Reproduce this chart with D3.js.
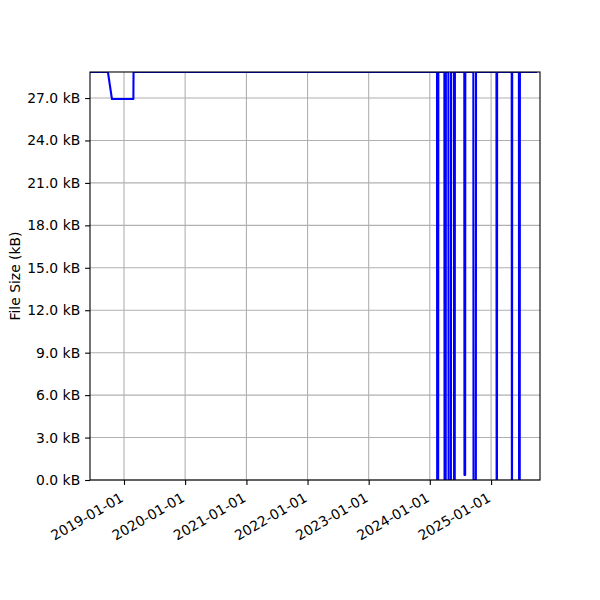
<!DOCTYPE html>
<html>
<head>
<meta charset="utf-8">
<script src="https://cdn.jsdelivr.net/npm/d3@7"></script>
<style>
  html, body { margin: 0; padding: 0; background: #fff; }
  svg { display: block; }
  text { font-family: "DejaVu Sans", sans-serif; }
</style>
</head>
<body>
<svg id="chart" width="600" height="600"></svg>
<script>
// ---- Data ----
const dates = [
  "2018-06-12", "2018-09-27", "2018-10-21", "2019-02-26", "2019-02-27",
  "2024-02-13", "2024-02-14", "2024-02-20", "2024-02-21",
  "2024-03-28", "2024-03-29", "2024-04-05", "2024-04-06",
  "2024-04-21", "2024-04-22", "2024-05-06", "2024-05-07",
  "2024-05-24", "2024-05-25", "2024-05-29", "2024-05-30",
  "2024-07-25", "2024-07-26", "2024-07-30", "2024-07-31",
  "2024-09-17", "2024-09-18", "2024-10-02", "2024-10-03",
  "2025-02-02", "2025-02-03", "2025-02-05", "2025-02-06",
  "2025-05-04", "2025-05-05", "2025-05-06", "2025-05-07",
  "2025-06-16", "2025-06-17", "2025-06-21", "2025-06-22",
  "2025-10-03"
];
const sizesKB = [
  28.84, 28.84, 26.93, 26.93, 28.84,
  28.84, 0, 0, 28.84,
  28.84, 0, 0, 28.84,
  28.84, 0, 0, 28.84,
  28.84, 0, 0, 28.84,
  28.84, 0.35, 0.35, 28.84,
  28.84, 0, 0, 28.84,
  28.84, 0, 0, 28.84,
  28.84, 0, 0, 28.84,
  28.84, 0, 0, 28.84,
  28.84
];
const xDomain = ["2018-06-12", "2025-10-20"];
const xTickDates = ["2019-01-01", "2020-01-01", "2021-01-01", "2022-01-01", "2023-01-01", "2024-01-01", "2025-01-01"];
const yTickValues = [0, 3, 6, 9, 12, 15, 18, 21, 24, 27];
const yLabel = "File Size (kB)";

// ---- Layout ----
const W = 600, H = 600;
const mLeft = 90, mRight = 540, mTop = 72, mBottom = 480;
const parse = d3.utcParse("%Y-%m-%d");
const fmtDate = d3.utcFormat("%Y-%m-%d");
const fontSize = 13.9;

const points = dates.map((d, i) => ({ date: parse(d), v: sizesKB[i] }));

const x = d3.scaleUtc().domain(xDomain.map(parse)).range([mLeft, mRight]);
const y = d3.scaleLinear().domain([0, d3.max(sizesKB)]).range([mBottom, mTop]);

const svg = d3.select("#chart");

svg.append("defs").append("clipPath").attr("id", "clip")
  .append("rect").attr("x", mLeft).attr("y", mTop)
  .attr("width", mRight - mLeft).attr("height", mBottom - mTop);

// Grid
const grid = svg.append("g");
grid.selectAll("line.gx").data(xTickDates.map(parse)).join("line")
  .attr("class", "gx")
  .attr("x1", d => x(d)).attr("x2", d => x(d))
  .attr("y1", mTop).attr("y2", mBottom)
  .attr("stroke", "#b0b0b0").attr("stroke-width", 1.1);
grid.selectAll("line.gy").data(yTickValues).join("line")
  .attr("class", "gy")
  .attr("x1", mLeft).attr("x2", mRight)
  .attr("y1", d => y(d)).attr("y2", d => y(d))
  .attr("stroke", "#b0b0b0").attr("stroke-width", 1.1);

// Line
const line = d3.line().x(d => x(d.date)).y(d => y(d.v));
svg.append("path").datum(points)
  .attr("clip-path", "url(#clip)")
  .attr("d", line)
  .attr("fill", "none")
  .attr("stroke", "#0000ff")
  .attr("stroke-width", 2.08)
  .attr("stroke-linejoin", "round");

// Frame
svg.append("rect").attr("x", mLeft).attr("y", mTop)
  .attr("width", mRight - mLeft).attr("height", mBottom - mTop)
  .attr("fill", "none").attr("stroke", "#000").attr("stroke-width", 1.1);

// X axis ticks and labels
const xAxis = d3.axisBottom(x).tickValues(xTickDates.map(parse)).tickFormat(fmtDate)
  .tickSizeInner(4.9).tickSizeOuter(0).tickPadding(4.9);
const gx = svg.append("g").attr("transform", `translate(0,${mBottom})`).call(xAxis);
gx.select(".domain").remove();
gx.selectAll(".tick line").attr("stroke", "#000").attr("stroke-width", 1.1);
gx.selectAll(".tick text")
  .attr("font-size", fontSize).attr("font-family", "DejaVu Sans, sans-serif")
  .attr("fill", "#000")
  .attr("text-anchor", "end")
  .attr("dy", null)
  .attr("y", 0)
  .attr("transform", "translate(0,20.5) rotate(-30)");

// Y axis
const yAxis = d3.axisLeft(y).tickValues(yTickValues).tickFormat(d => d.toFixed(1) + " kB")
  .tickSizeInner(4.9).tickSizeOuter(0).tickPadding(4.9);
const gy = svg.append("g").attr("transform", `translate(${mLeft},0)`).call(yAxis);
gy.select(".domain").remove();
gy.selectAll(".tick line").attr("stroke", "#000").attr("stroke-width", 1.1);
gy.selectAll(".tick text")
  .attr("font-size", fontSize).attr("font-family", "DejaVu Sans, sans-serif")
  .attr("fill", "#000");

// Y label
svg.append("text")
  .attr("transform", `translate(20,${(mTop + mBottom) / 2}) rotate(-90)`)
  .attr("text-anchor", "middle")
  .attr("font-size", fontSize)
  .attr("fill", "#000")
  .text(yLabel);
</script>
</body>
</html>
